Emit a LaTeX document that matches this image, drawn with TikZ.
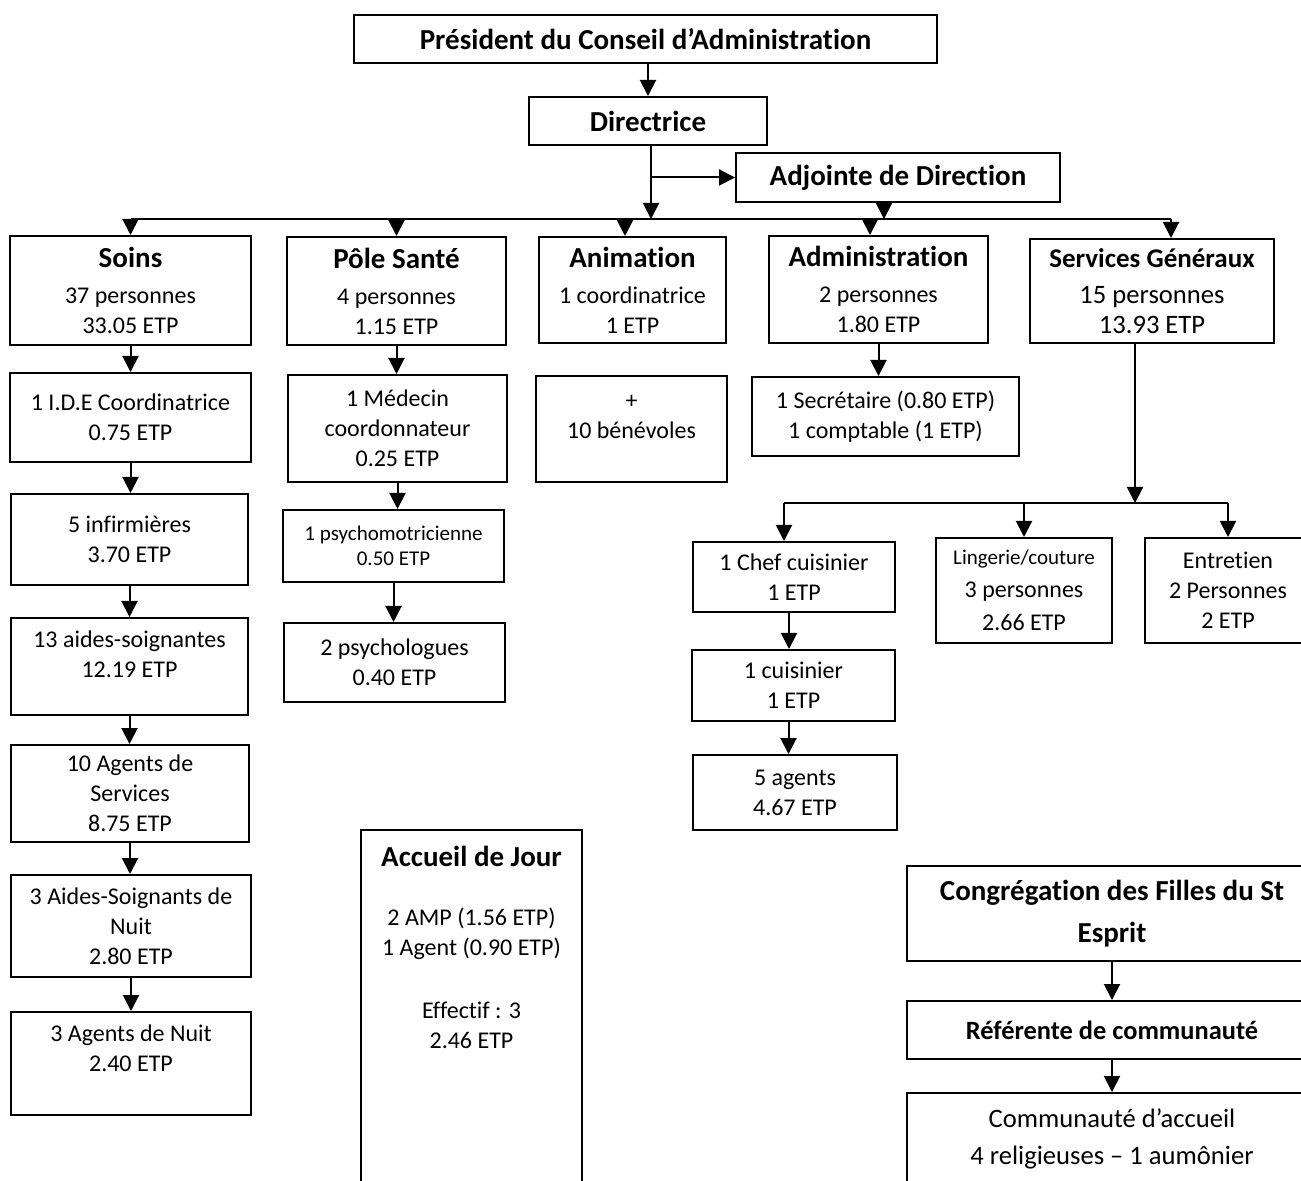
\documentclass[tikz,border=0pt]{standalone}
\usepackage{fontspec}
\setmainfont{Carlito}[Ligatures=NoCommon]
\usetikzlibrary{arrows.meta}

\newcommand\titre[1]{{\fontsize{14.5}{17}\selectfont\bfseries #1}}

\tikzset{
  box/.style={draw, line width=1pt, align=center, inner sep=0pt, font=\fontsize{12}{15}\selectfont},
  arr/.style={line width=1pt, -{Triangle[width=8pt,length=8pt]}},
  lien/.style={line width=1pt},
}

\begin{document}
\begin{tikzpicture}[x=0.5pt,y=-0.5pt]
    \useasboundingbox (0,0) rectangle (1301,1181);
    \fill[white] (0,0) rectangle (1301,1181);
    \clip (0,0) rectangle (1301,1181);

    % Direction
    \node[box, minimum width=291.5pt, minimum height=24pt] (pres) at (645.5,39) {\titre{Président du Conseil d’Administration}};
    \node[box, minimum width=119pt, minimum height=24pt] (dir) at (648,121) {\titre{Directrice}};
    \node[box, minimum width=162pt, minimum height=24.5pt] (adj) at (898,177.5) {\titre{Adjointe de Direction}};
    \coordinate (hub) at (651,219);

    % Poles
    \node[box, minimum width=120.5pt, minimum height=54.5pt] (soins) at (130.5,290.5) {\titre{Soins}\\[3pt]37 personnes\\33.05 ETP};
    \node[box, minimum width=109.5pt, minimum height=54pt] (pole) at (396.5,291) {\titre{Pôle Santé}\\[3pt]4 personnes\\1.15 ETP};
    \node[box, minimum width=93.5pt, minimum height=53pt] (anim) at (632.5,290) {\titre{Animation}\\[3pt]1 coordinatrice\\1 ETP};
    \node[box, minimum width=109.5pt, minimum height=53.5pt] (admin) at (878.5,289.5) {\titre{Administration}\\[3pt]2 personnes\\1.80 ETP};
    \node[box, minimum width=122pt, minimum height=52pt, font=\fontsize{13.3}{15}\selectfont] (serv) at (1152,291) {{\fontsize{13.5}{15}\selectfont\bfseries Services Généraux}\\[3pt]15 personnes\\13.93 ETP};

    % Soins
    \node[box, minimum width=120.5pt, minimum height=44.5pt] (ide) at (130.5,417.5) {1 I.D.E Coordinatrice\\0.75 ETP};
    \node[box, minimum width=118.5pt, minimum height=45.5pt] (infirm) at (129.5,539.5) {5 infirmières\\3.70 ETP};
    \node[box, minimum width=118.5pt, minimum height=48.5pt] (aides) at (129.5,666.5) {13 aides-soignantes\\12.19 ETP\\[-3pt]\mbox{}};
    \node[box, minimum width=119pt, minimum height=48.5pt] (agserv) at (130,793.5) {10 Agents de\\Services\\8.75 ETP};
    \node[box, minimum width=120pt, minimum height=51pt] (asnuit) at (131,926) {3 Aides-Soignants de\\Nuit\\2.80 ETP};
    \node[box, minimum width=120pt, minimum height=51.5pt] (agnuit) at (131,1063.5) {3 Agents de Nuit\\2.40 ETP\\\mbox{}};

    % Pole sante
    \node[box, minimum width=109.5pt, minimum height=53.5pt] (medecin) at (397.5,428.5) {1 Médecin\\coordonnateur\\0.25 ETP};
    \node[box, minimum width=110.5pt, minimum height=36pt, font=\fontsize{10.5}{12.5}\selectfont] (psychomot) at (393.5,546) {1 psychomotricienne\\0.50 ETP};
    \node[box, minimum width=110.5pt, minimum height=39.5pt] (psycho) at (394.5,662.5) {2 psychologues\\0.40 ETP};

    % Animation, administration
    \node[box, minimum width=95.5pt, minimum height=53pt] (benev) at (631.5,429) {+\\10 bénévoles\\[-3pt]\mbox{}};
    \node[box, minimum width=133.5pt, minimum height=39.5pt] (secr) at (885.5,416.5) {1 Secrétaire (0.80 ETP)\\1 comptable (1 ETP)};

    % Services generaux
    \coordinate (hub2) at (1135,503);
    \node[box, minimum width=101pt, minimum height=35pt] (chef) at (794,577) {1 Chef cuisinier\\1 ETP};
    \node[box, minimum width=101.5pt, minimum height=35.5pt] (cuis) at (793.5,685.5) {1 cuisinier\\1 ETP};
    \node[box, minimum width=102pt, minimum height=37.5pt] (agents) at (795,792.5) {5 agents\\4.67 ETP};
    \node[box, minimum width=88pt, minimum height=52.5pt, font=\fontsize{12}{16.5}\selectfont] (linge) at (1024,590.5) {{\fontsize{10.5}{12}\selectfont Lingerie/couture}\\3 personnes\\2.66 ETP};
    \node[box, minimum width=83pt, minimum height=52.5pt] (entret) at (1228,590.5) {Entretien\\2 Personnes\\2 ETP};

    % Accueil de jour
    \node[box, anchor=north, minimum width=110.5pt, inner ysep=8pt] (accueil) at (471.5,829) {\titre{Accueil de Jour}\\[14.5pt]2 AMP (1.56 ETP)\\1 Agent (0.90 ETP)\\[16.5pt]Effectif : 3\\2.46 ETP\\[120pt]\mbox{}};

    % Communaute
    \node[box, minimum width=205pt, minimum height=47.5pt, font=\fontsize{14.5}{21}\selectfont\bfseries] (cong) at (1112,913.5) {Congrégation des Filles du St\\Esprit};
    \node[box, minimum width=205pt, minimum height=29pt, font=\fontsize{13.2}{15}\selectfont\bfseries] (ref) at (1112,1030) {Référente de communauté};
    \node[box, minimum width=205pt, minimum height=46pt, font=\fontsize{13.3}{18.5}\selectfont] (comm) at (1112,1139) {Communauté d’accueil\\4 religieuses – 1 aumônier};

    % Liens direction
    \draw[arr] (pres.south -| dir.north) -- (dir.north);
    \draw[arr] (dir.south -| hub) -- (hub);
    \draw[arr] (hub |- adj.west) -- (adj.west);
    \draw[arr] ([xshift=-7pt]adj.south) -- ([xshift=-7pt]adj.south |- hub);
    \draw[lien] (soins.north |- hub) -- ([xshift=9.5pt]serv.north |- hub);
    \draw[arr] (soins.north |- hub) -- (soins.north);
    \draw[arr] (pole.north |- hub) -- (pole.north);
    \draw[arr] ([xshift=-3.75pt]anim.north |- hub) -- ([xshift=-3.75pt]anim.north);
    \draw[arr] ([xshift=-4.25pt]admin.north |- hub) -- ([xshift=-4.25pt]admin.north);
    \draw[arr] ([xshift=9.5pt]serv.north |- hub) -- ([xshift=9.5pt]serv.north);

    % Colonnes
    \draw[arr] (soins.south) -- (soins.south |- ide.north);
    \draw[arr] (ide.south) -- (ide.south |- infirm.north);
    \draw[arr] (infirm.south) -- (infirm.south |- aides.north);
    \draw[arr] (aides.south) -- (aides.south |- agserv.north);
    \draw[arr] (agserv.south) -- (agserv.south |- asnuit.north);
    \draw[arr] (asnuit.south) -- (asnuit.south |- agnuit.north);
    \draw[arr] (pole.south) -- (pole.south |- medecin.north);
    \draw[arr] (medecin.south) -- (medecin.south |- psychomot.north);
    \draw[arr] (psychomot.south) -- (psychomot.south |- psycho.north);
    \draw[arr] (admin.south) -- (admin.south |- secr.north);

    % Services generaux
    \draw[arr] (serv.south -| hub2) -- (hub2);
    \draw[lien] ([xshift=-5pt]chef.north |- hub2) -- (entret.north |- hub2);
    \draw[arr] ([xshift=-5pt]chef.north |- hub2) -- ([xshift=-5pt]chef.north);
    \draw[arr] (linge.north |- hub2) -- (linge.north);
    \draw[arr] (entret.north |- hub2) -- (entret.north);
    \draw[arr] ([xshift=-2.5pt]chef.south) -- ([xshift=-2.5pt]chef.south |- cuis.north);
    \draw[arr] ([xshift=-2.5pt]cuis.south) -- ([xshift=-2.5pt]cuis.south |- agents.north);

    % Communaute
    \draw[arr] (cong.south) -- (ref.north);
    \draw[arr] (ref.south) -- (comm.north);
\end{tikzpicture}
\end{document}
